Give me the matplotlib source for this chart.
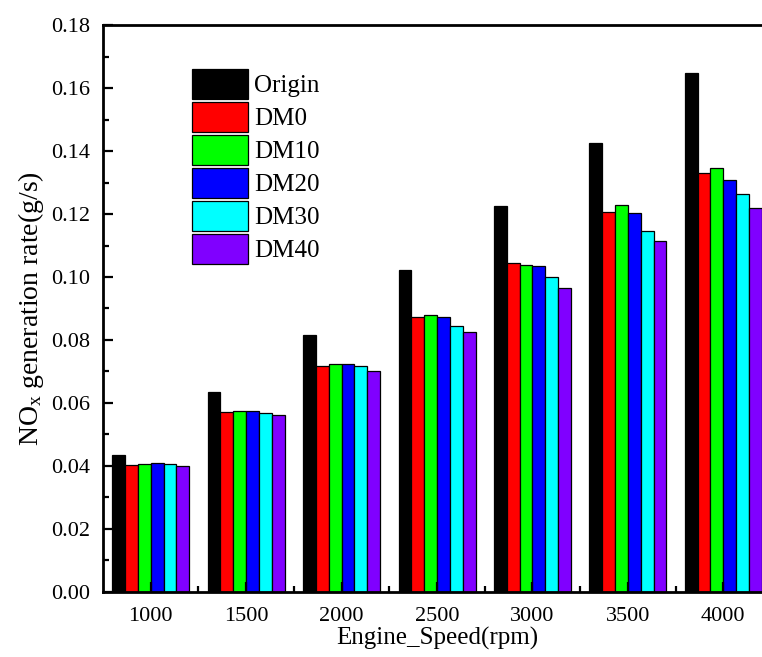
import numpy as np
import matplotlib
matplotlib.use("Agg")
import matplotlib.pyplot as plt
from matplotlib.ticker import MultipleLocator

plt.rcParams['font.family'] = ['Liberation Serif', 'DejaVu Serif']
plt.rcParams['mathtext.fontset'] = 'custom'
plt.rcParams['mathtext.rm'] = 'Liberation Serif'
plt.rcParams['mathtext.it'] = 'Liberation Serif'

# Engine speeds and NOx generation rate per fuel blend
speeds = ['1000', '1500', '2000', '2500', '3000', '3500', '4000']
series = ['Origin', 'DM0', 'DM10', 'DM20', 'DM30', 'DM40']
origin = [0.0434, 0.0636, 0.0816, 0.1022, 0.1226, 0.1427, 0.1649]
dm0 = [0.0403, 0.0571, 0.0717, 0.0872, 0.1044, 0.1206, 0.1330]
dm10 = [0.0407, 0.0574, 0.0723, 0.0879, 0.1039, 0.1230, 0.1345]
dm20 = [0.0409, 0.0574, 0.0723, 0.0872, 0.1034, 0.1203, 0.1308]
dm30 = [0.0405, 0.0569, 0.0716, 0.0845, 0.1001, 0.1145, 0.1264]
dm40 = [0.0399, 0.0562, 0.0702, 0.0826, 0.0964, 0.1115, 0.1220]
colors = ['#000000', '#FF0000', '#00FF00', '#0000FF', '#00FFFF', '#8000FF']

data = [origin, dm0, dm10, dm20, dm30, dm40]

fig = plt.figure(figsize=(7.62, 6.57), dpi=100)
# right edge runs past the canvas, so the right spine stays off-screen
ax = fig.add_axes([0.1352, 0.0994, 1.0118 - 0.1352, 0.9615 - 0.0994])

x = np.arange(len(speeds))
width = 0.1345
for i, (vals, name, c) in enumerate(zip(data, series, colors)):
    offset = (i - 2.5) * width
    ax.bar(x + offset, vals, width, color=c, edgecolor='black', linewidth=0.9, label=name)

ax.set_xlim(-0.5, 6.5)
ax.set_ylim(0, 0.18)
ax.set_xticks(x)
ax.set_xticklabels(speeds)
ax.set_xticks(x[:-1] + 0.5, minor=True)
ax.yaxis.set_major_locator(MultipleLocator(0.02))
ax.yaxis.set_minor_locator(MultipleLocator(0.01))
ax.yaxis.set_major_formatter(plt.FuncFormatter(lambda v, p: f'{v:.2f}'))

ax.tick_params(which='major', direction='in', length=7, width=1.6, labelsize=16)
ax.tick_params(axis='y', which='major', pad=9)
ax.tick_params(axis='x', which='major', pad=11)
ax.tick_params(which='minor', direction='in', length=4, width=1.6)
ax.tick_params(top=False, right=False, which='both')

for side in ['left', 'bottom', 'top']:
    ax.spines[side].set_linewidth(2.0)
ax.spines['right'].set_visible(False)

ax.set_xlabel('Engine_Speed(rpm)', fontsize=18, labelpad=1)
ax.set_ylabel('NO$_\\mathrm{x}$ generation rate(g/s)', fontsize=20, labelpad=4)

ax.legend(loc='upper left', bbox_to_anchor=(0.252, 0.895), bbox_transform=fig.transFigure,
          frameon=False, fontsize=18, handlelength=2.24, handleheight=1.47,
          labelspacing=0.12, handletextpad=0.24, borderpad=0, borderaxespad=0)

fig.savefig('out.png', dpi=100)
